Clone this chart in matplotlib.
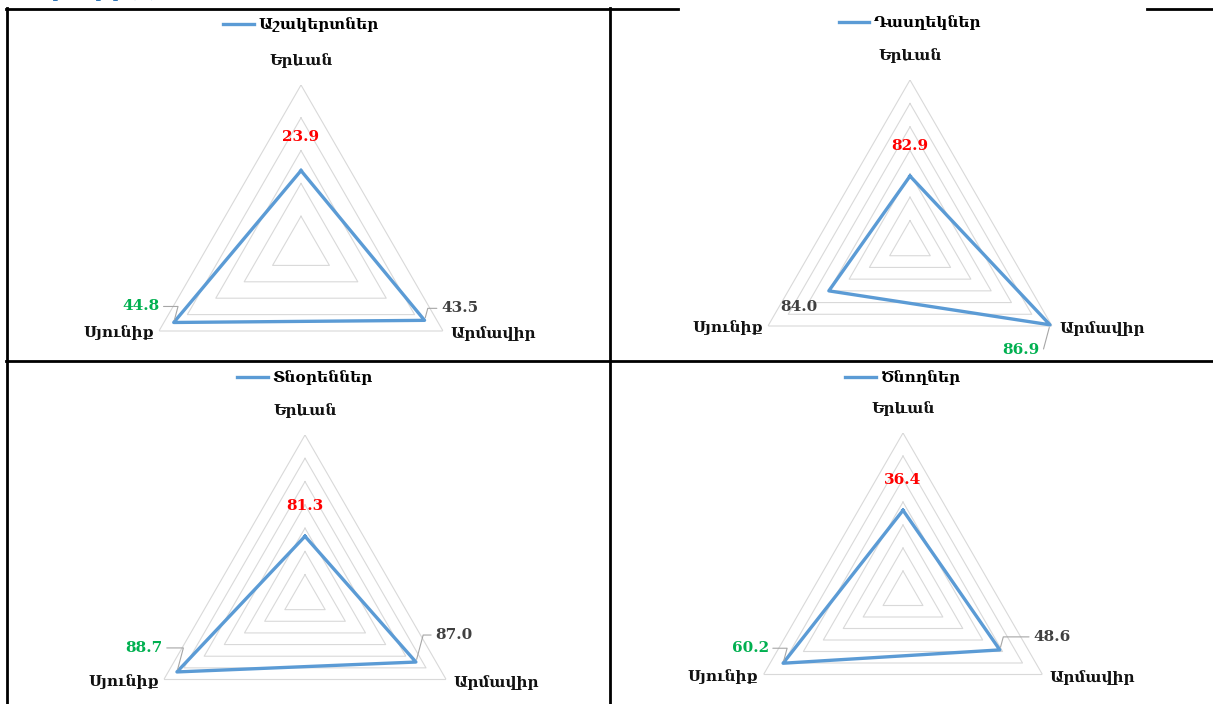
import numpy as np
import matplotlib
matplotlib.use('Agg')
import matplotlib.pyplot as plt
from matplotlib.lines import Line2D

plt.rcParams['font.family'] = ['DejaVu Serif', 'DejaVu Sans']

W, H = 1213, 704

# data
categories = ['Երևան', 'Արմավիր', 'Սյունիք']
series_names = ['Աշակերտներ', 'Դասղեկներ', 'Տնօրեններ', 'Ծնողներ']
students = [23.9, 43.5, 44.8]
teachers = [82.9, 86.9, 84.0]
directors = [81.3, 87.0, 88.7]
parents = [36.4, 48.6, 60.2]
all_values = [students, teachers, directors, parents]
# axis min, max, major step (as in the source charts)
axis_ranges = [(0, 50, 10), (80, 87, 1), (76, 90, 2), (0, 70, 10)]

# layout: chart centre x, y and radius in pixels
layout = [(301, 249, 164), (910, 244, 164), (305, 598, 163), (903, 594, 161)]
legend_up = [224, 221, 220, 216]
# value label offsets in pixels (Yerevan, Armavir, Syunik) and leader flags
label_offsets = [
    [(0, 34), (35, 12), (-33, 16)],
    [(0, 30), (-29, -25), (-30, -16)],
    [(0, 30), (38, 27), (-33, 24)],
    [(0, 30), (52, 13), (-33, 15)],
]
leaders = [
    [False, True, True],
    [False, True, False],
    [False, True, True],
    [False, True, True],
]

blue = '#5B9BD5'
grid_c = '#D9D9D9'

fig = plt.figure(figsize=(W / 100, H / 100), dpi=100)

theta = np.arange(3) * 2 * np.pi / 3
theta_c = np.append(theta, theta[0])

for i in range(4):
    cx, cy, R = layout[i]
    ax = fig.add_axes([(cx - R) / W, (H - cy - R) / H, 2 * R / W, 2 * R / H],
                      projection='polar')
    ax.set_theta_offset(np.pi / 2)
    ax.set_theta_direction(-1)
    lo, hi, step = axis_ranges[i]
    ax.set_ylim(lo, hi)
    ax.set_xticks([])
    ax.set_yticks([])
    ax.grid(False)
    ax.spines['polar'].set_visible(False)
    ax.patch.set_visible(False)

    for v in np.arange(lo + step, hi + step / 2, step):
        ax.plot(theta_c, [v] * 4, color=grid_c, lw=0.8, zorder=1)

    vals = all_values[i]
    line, = ax.plot(theta_c, vals + [vals[0]], color=blue, lw=2.4, zorder=3)

    vmin, vmax = min(vals), max(vals)
    for k in range(3):
        v = vals[k]
        if v == vmax:
            col = '#00B050'
        elif v == vmin:
            col = '#FF0000'
        else:
            col = '#404040'
        dx, dy = label_offsets[i][k]
        kw = {}
        if leaders[i][k]:
            kw['arrowprops'] = dict(arrowstyle='-', color='#A6A6A6', lw=0.8,
                                    shrinkA=1, shrinkB=2,
                                    relpos=(1, 0.5) if dx < 0 else (0, 0.5),
                                    connectionstyle='angle,angleA=0,angleB=75,rad=0')
        ax.annotate(f'{v:.1f}', xy=(theta[k], v), xytext=(dx, dy),
                    textcoords='offset pixels', ha='center', va='center',
                    color=col, fontsize=11, fontweight='bold', zorder=4, **kw)

    # category labels
    ax.annotate(categories[0], xy=(theta[0], hi), xytext=(0, 24),
                textcoords='offset pixels', ha='center', va='center',
                fontsize=11, fontweight='bold', color='#111111')
    ax.annotate(categories[1], xy=(theta[1], hi), xytext=(7, -3),
                textcoords='offset pixels', ha='left', va='center',
                fontsize=11, fontweight='bold', color='#111111')
    ax.annotate(categories[2], xy=(theta[2], hi), xytext=(-5, -2),
                textcoords='offset pixels', ha='right', va='center',
                fontsize=11, fontweight='bold', color='#111111')

    ax.legend([line], [series_names[i]], loc='center',
              bbox_to_anchor=(0.5, 0.5 + legend_up[i] / (2 * R)),
              frameon=False, handlelength=2.0, handletextpad=0.3,
              prop={'size': 11, 'weight': 'bold'})

# table borders
def hline(x0, x1, y):
    fig.add_artist(Line2D([x0 / W, x1 / W], [1 - y / H, 1 - y / H],
                          transform=fig.transFigure, color='black', lw=2.0))

def vline(x, y0, y1):
    fig.add_artist(Line2D([x / W, x / W], [1 - y0 / H, 1 - y1 / H],
                          transform=fig.transFigure, color='black', lw=2.0))

hline(6, 678, 9)
hline(1147, W, 9)
hline(6, W, 361)
vline(7, 8, H)
vline(610, 8, H)

# cut-off caption above the table (only its lowest strokes show)
fig.text(2 / W, 1 + 2 / H, 'Գծապատկեր (%)', color='#2E74B5', fontsize=11,
         fontweight='bold', va='baseline')

fig.savefig('out.png', dpi=100)
